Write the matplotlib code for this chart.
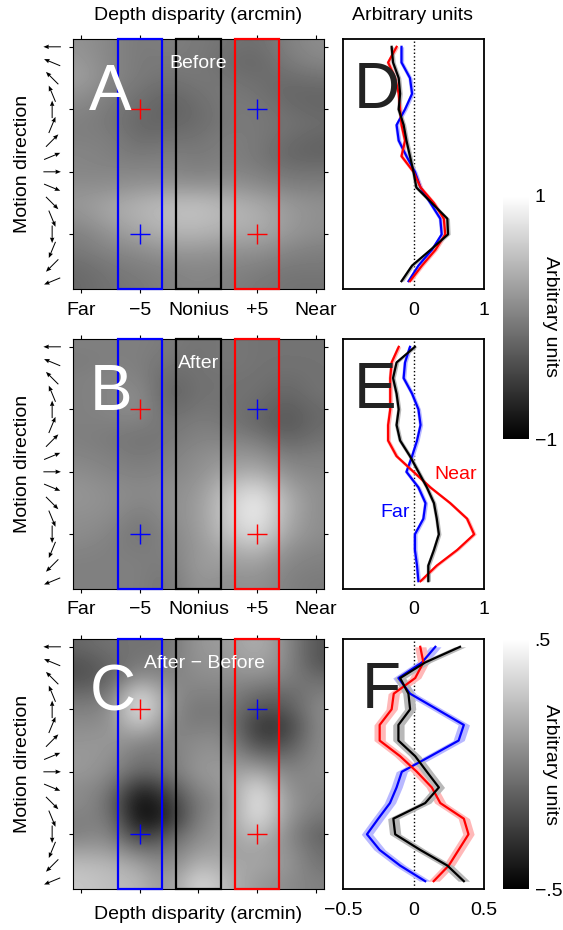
import numpy as np
import matplotlib
matplotlib.use("Agg")
import matplotlib.pyplot as plt
from matplotlib.patches import Rectangle

plt.rcParams['font.family'] = ['Liberation Sans', 'DejaVu Sans']
plt.rcParams['font.size'] = 14

# motion directions (deg), one row per direction
directions = [0, 22.5, 45, 67.5, 90, 112.5, 135, 157.5,
              180, 202.5, 225, 247.5, 270, 292.5, 315, 337.5]
# depth disparity (arcmin), one column per value
disparities = [-10, -7.5, -5, -2.5, 0, 2.5, 5, 7.5, 10]
disp_ticks = [-10, -5, 0, 5, 10]
disp_labels = ['Far', '\u22125', 'Nonius', '+5', 'Near']

before_map = [
    [0.15, 0.05, -0.05, 0.00, -0.05, -0.10, -0.15, 0.00, 0.10],
    [0.20, 0.05, -0.05, -0.05, -0.05, -0.15, -0.20, -0.05, 0.05],
    [0.25, 0.05, -0.05, -0.10, -0.05, -0.10, -0.15, -0.15, -0.10],
    [0.15, 0.00, -0.10, -0.20, -0.10, -0.05, -0.10, -0.20, -0.20],
    [0.05, -0.05, -0.15, -0.25, -0.15, -0.05, -0.05, -0.15, -0.20],
    [0.00, -0.05, -0.20, -0.20, -0.15, -0.05, -0.05, -0.10, -0.15],
    [0.00, 0.00, -0.15, -0.10, -0.10, 0.00, -0.05, -0.15, -0.22],
    [0.05, 0.00, -0.05, 0.00, -0.05, 0.00, -0.05, -0.20, -0.22],
    [0.05, 0.05, 0.05, 0.05, 0.00, 0.05, 0.00, -0.10, -0.10],
    [0.12, 0.12, 0.18, 0.20, 0.18, 0.18, 0.12, 0.02, 0.00],
    [0.18, 0.28, 0.38, 0.45, 0.48, 0.38, 0.32, 0.18, 0.12],
    [0.12, 0.28, 0.38, 0.48, 0.50, 0.42, 0.38, 0.22, 0.12],
    [0.00, 0.15, 0.28, 0.38, 0.40, 0.32, 0.32, 0.18, 0.10],
    [-0.05, 0.05, 0.10, 0.20, 0.20, 0.15, 0.15, 0.05, 0.00],
    [-0.15, -0.05, 0.00, 0.05, 0.08, 0.05, 0.02, -0.05, -0.05],
    [-0.18, -0.10, -0.05, 0.00, 0.05, 0.00, -0.05, -0.10, -0.10],
]

after_map = [
    [0.00, 0.00, 0.00, -0.04, -0.10, -0.06, -0.10, -0.10, -0.10],
    [-0.04, 0.00, 0.00, -0.10, -0.10, -0.06, -0.10, -0.10, -0.10],
    [0.00, 0.04, 0.04, -0.20, -0.10, -0.10, -0.10, -0.16, -0.10],
    [0.00, 0.04, 0.12, -0.26, -0.10, -0.10, -0.12, -0.22, -0.10],
    [0.00, 0.04, 0.12, -0.20, -0.06, -0.10, -0.16, -0.30, -0.16],
    [0.00, 0.00, 0.00, -0.10, 0.00, -0.06, -0.18, -0.34, -0.16],
    [0.00, -0.04, -0.10, -0.06, 0.04, 0.04, 0.00, -0.22, -0.10],
    [0.04, 0.00, -0.06, 0.00, 0.10, 0.16, 0.18, -0.04, 0.00],
    [0.10, 0.04, 0.00, 0.04, 0.12, 0.28, 0.38, 0.10, 0.04],
    [0.16, 0.10, 0.06, 0.10, 0.16, 0.48, 0.70, 0.26, 0.10],
    [0.16, 0.12, 0.04, 0.10, 0.20, 0.58, 0.90, 0.38, 0.10],
    [0.12, 0.10, -0.06, 0.10, 0.20, 0.58, 0.90, 0.34, 0.10],
    [0.10, 0.04, -0.10, 0.04, 0.20, 0.50, 0.78, 0.26, 0.10],
    [0.04, 0.00, -0.04, 0.00, 0.20, 0.32, 0.48, 0.12, 0.04],
    [0.00, 0.00, 0.00, -0.06, 0.24, 0.20, 0.26, 0.04, 0.00],
    [0.00, 0.00, 0.00, -0.10, 0.20, 0.10, 0.16, 0.00, -0.04],
]

diff_map = [
    [-0.10, -0.05, -0.05, -0.05, 0.10, 0.10, 0.20, 0.05, -0.18],
    [-0.18, -0.10, -0.02, -0.02, 0.08, 0.08, 0.15, 0.05, -0.18],
    [-0.18, -0.12, 0.12, 0.00, 0.05, 0.05, 0.05, 0.00, -0.08],
    [-0.08, -0.05, 0.40, 0.05, 0.00, 0.02, -0.08, -0.10, 0.00],
    [0.00, 0.02, 0.46, 0.06, -0.05, 0.00, -0.18, -0.18, 0.05],
    [0.05, 0.05, 0.30, 0.02, -0.02, 0.02, -0.30, -0.28, 0.05],
    [0.08, 0.10, 0.05, 0.00, 0.05, 0.05, -0.24, -0.22, 0.05],
    [0.10, 0.08, -0.05, -0.02, 0.08, 0.08, -0.05, -0.10, 0.05],
    [0.10, 0.05, -0.12, -0.05, 0.10, 0.10, 0.18, 0.00, 0.05],
    [0.05, 0.00, -0.36, -0.18, 0.05, 0.08, 0.40, 0.05, 0.02],
    [0.05, -0.05, -0.50, -0.30, 0.00, 0.05, 0.46, 0.10, 0.00],
    [0.00, 0.00, -0.48, -0.34, 0.02, 0.08, 0.42, 0.08, -0.05],
    [0.00, 0.05, -0.32, -0.15, 0.05, 0.10, 0.28, 0.05, -0.12],
    [0.12, 0.12, -0.05, -0.05, 0.12, 0.12, 0.15, 0.08, -0.08],
    [0.24, 0.22, 0.14, 0.00, 0.24, 0.15, 0.15, 0.10, -0.05],
    [0.28, 0.24, 0.22, 0.05, 0.38, 0.20, 0.10, 0.05, 0.00],
]

# direction tuning profiles: far (-5), nonius (0), near (+5)
d_far = [-0.17, -0.17, -0.05, -0.02, -0.12, -0.24, -0.21, -0.10,
         0.02, 0.10, 0.24, 0.38, 0.40, 0.26, 0.07, -0.07]
d_nonius = [-0.31, -0.29, -0.21, -0.19, -0.21, -0.14, -0.10, -0.05,
            0.00, 0.04, 0.26, 0.48, 0.49, 0.24, -0.02, -0.17]
d_near = [-0.24, -0.36, -0.26, -0.21, -0.19, -0.17, -0.12, -0.17,
          0.00, 0.10, 0.29, 0.43, 0.45, 0.31, 0.12, -0.05]

e_far = [-0.05, -0.12, -0.14, -0.02, 0.07, 0.10, 0.05, -0.02,
         -0.10, 0.07, 0.17, 0.14, 0.02, 0.02, 0.05, 0.07]
e_nonius = [0.02, -0.24, -0.29, -0.24, -0.21, -0.24, -0.19, -0.05,
            0.07, 0.19, 0.29, 0.33, 0.36, 0.29, 0.21, 0.21]
e_near = [-0.21, -0.31, -0.33, -0.33, -0.33, -0.36, -0.36, -0.24,
          0.00, 0.24, 0.52, 0.76, 0.86, 0.62, 0.33, 0.10]

f_far = [0.155, 0.06, -0.107, -0.024, 0.167, 0.357, 0.32, 0.12,
         -0.083, -0.12, -0.167, -0.25, -0.33, -0.24, -0.095, 0.083]
f_nonius = [0.33, 0.083, -0.095, -0.036, -0.024, -0.107, -0.107, 0.012,
            0.095, 0.18, 0.083, -0.143, -0.13, 0.048, 0.24, 0.357]
f_near = [0.048, 0.07, 0.012, -0.14, -0.155, -0.24, -0.24, -0.095,
          0.024, 0.13, 0.19, 0.357, 0.39, 0.32, 0.25, 0.143]

band_err = [0.03, 0.03, 0.04]

W, H = 563, 930
fig = plt.figure(figsize=(W / 100, H / 100), dpi=100)


def add_px_axes(x0, y0, x1, y1):
    return fig.add_axes([x0 / W, 1 - y1 / H, (x1 - x0) / W, (y1 - y0) / H])


YLIM = (348.75, -11.25)
rows = [(39, 289), (339, 589), (639, 889)]
maps = [before_map, after_map, diff_map]
vmaxes = [1, 1, 0.5]
letters = ['A', 'B', 'C']
notes = ['Before', 'After', 'After \u2212 Before']
images = []

for i, (y0, y1) in enumerate(rows):
    # motion direction arrows, 0 deg points left, turning clockwise on screen
    aa = add_px_axes(35, y0, 70, y1)
    ang = np.radians(180 - np.array(directions))
    aa.quiver(np.full(len(directions), 0.49), directions, np.cos(ang), np.sin(ang),
              angles='uv', pivot='middle', units='inches', scale_units='inches',
              scale=1 / 0.175, width=0.010, headwidth=4.5, headlength=5.5,
              headaxislength=5, color='k')
    aa.set_xlim(0, 1)
    aa.set_ylim(*YLIM)
    aa.axis('off')

    ax = add_px_axes(73, y0, 324, y1)
    im = ax.imshow(np.array(maps[i]), cmap='gray', vmin=-vmaxes[i], vmax=vmaxes[i],
                   aspect='auto', interpolation='bicubic',
                   extent=[-11.25, 11.25, 348.75, -11.25])
    images.append(im)
    ax.set_xlim(-10.68, 10.68)
    ax.set_ylim(*YLIM)
    for c, col in zip([-5, 0, 5], ['b', 'k', 'r']):
        ax.add_patch(Rectangle((c - 1.88, -11.25), 3.76, 360, fill=False,
                               ec=col, lw=1.6, clip_on=False, zorder=3))
    ax.plot([-5, 5], [90, 270], '+', color='r', ms=15, mew=1)
    ax.plot([-5, 5], [270, 90], '+', color='b', ms=15, mew=1)
    ax.text(0.065, 0.716, letters[i], transform=ax.transAxes, color='w',
            fontsize=46, va='baseline', ha='left')
    ax.text(0.5 if i < 2 else 0.522, 0.904, notes[i], transform=ax.transAxes,
            color='w', ha='center', va='center')
    ax.set_xticks(disp_ticks)
    ax.set_yticks([0, 90, 180, 270])
    ax.tick_params(direction='out', length=3, top=True, right=True,
                   labelleft=False, pad=6)
    if i < 2:
        ax.set_xticklabels(disp_labels)
    else:
        ax.set_xticklabels([])
    fig.text(23 / W, 1 - (y0 + y1) / 2 / H, 'Motion direction', rotation=90,
             ha='center', va='center')

profiles = [(d_far, d_nonius, d_near), (e_far, e_nonius, e_near),
            (f_far, f_nonius, f_near)]
prof_letters = ['D', 'E', 'F']
for i, (y0, y1) in enumerate(rows):
    ax = add_px_axes(343, y0, 484, y1)
    ax.axvline(0, color='k', ls=':', lw=1, zorder=1)
    far, non, near = (np.array(p) for p in profiles[i])
    err = band_err[i]
    for vals, light in [(far, (0.72, 0.72, 1.0)), (near, (1.0, 0.72, 0.72)),
                        (non, (0.72, 0.72, 0.72))]:
        ax.fill_betweenx(directions, vals - err, vals + err, color=light, lw=0,
                         zorder=2)
    ax.plot(far, directions, color='b', lw=1.6, zorder=3)
    ax.plot(near, directions, color='r', lw=1.6, zorder=3)
    ax.plot(non, directions, color='k', lw=1.6, zorder=4)
    ax.set_ylim(*YLIM)
    ax.set_yticks([])
    if i < 2:
        ax.set_xlim(-1, 1)
        ax.set_xticks([0, 1])
        ax.set_xticklabels(['0', '1'])
    else:
        ax.set_xlim(-0.5, 0.5)
        ax.set_xticks([-0.5, 0, 0.5])
        ax.set_xticklabels(['\u22120.5', '0', '0.5'])
    ax.tick_params(length=0, pad=9)
    for s in ax.spines.values():
        s.set_linewidth(1.3)
    ax.text(0.078 if i < 2 else 0.13, 0.724, prof_letters[i], transform=ax.transAxes,
            fontsize=46, va='baseline', ha='left', color='#222222')
    if i == 1:
        ax.text(0.6, 184, 'Near', color='r', ha='center', va='center')
        ax.text(-0.26, 238, 'Far', color='b', ha='center', va='center')

# colorbars
cax1 = add_px_axes(503, 196, 529, 439)
cb1 = fig.colorbar(images[0], cax=cax1, ticks=[-1, 1])
cb1.set_ticklabels(['\u22121', '1'])
cax2 = add_px_axes(503, 639, 529, 889)
cb2 = fig.colorbar(images[2], cax=cax2, ticks=[-0.5, 0.5])
cb2.set_ticklabels(['\u2212.5', '.5'])
for cb in (cb1, cb2):
    cb.outline.set_visible(False)
    cb.ax.tick_params(length=0, pad=4)
fig.text(550 / W, 1 - 317 / H, 'Arbitrary units', rotation=270, ha='center', va='center')
fig.text(550 / W, 1 - 764 / H, 'Arbitrary units', rotation=270, ha='center', va='center')

fig.text(198.5 / W, 1 - 16 / H, 'Depth disparity (arcmin)', ha='center', va='center')
fig.text(413 / W, 1 - 16 / H, 'Arbitrary units', ha='center', va='center')
fig.text(198.5 / W, 1 - 914 / H, 'Depth disparity (arcmin)', ha='center', va='center')

fig.savefig('out.png', dpi=100)
